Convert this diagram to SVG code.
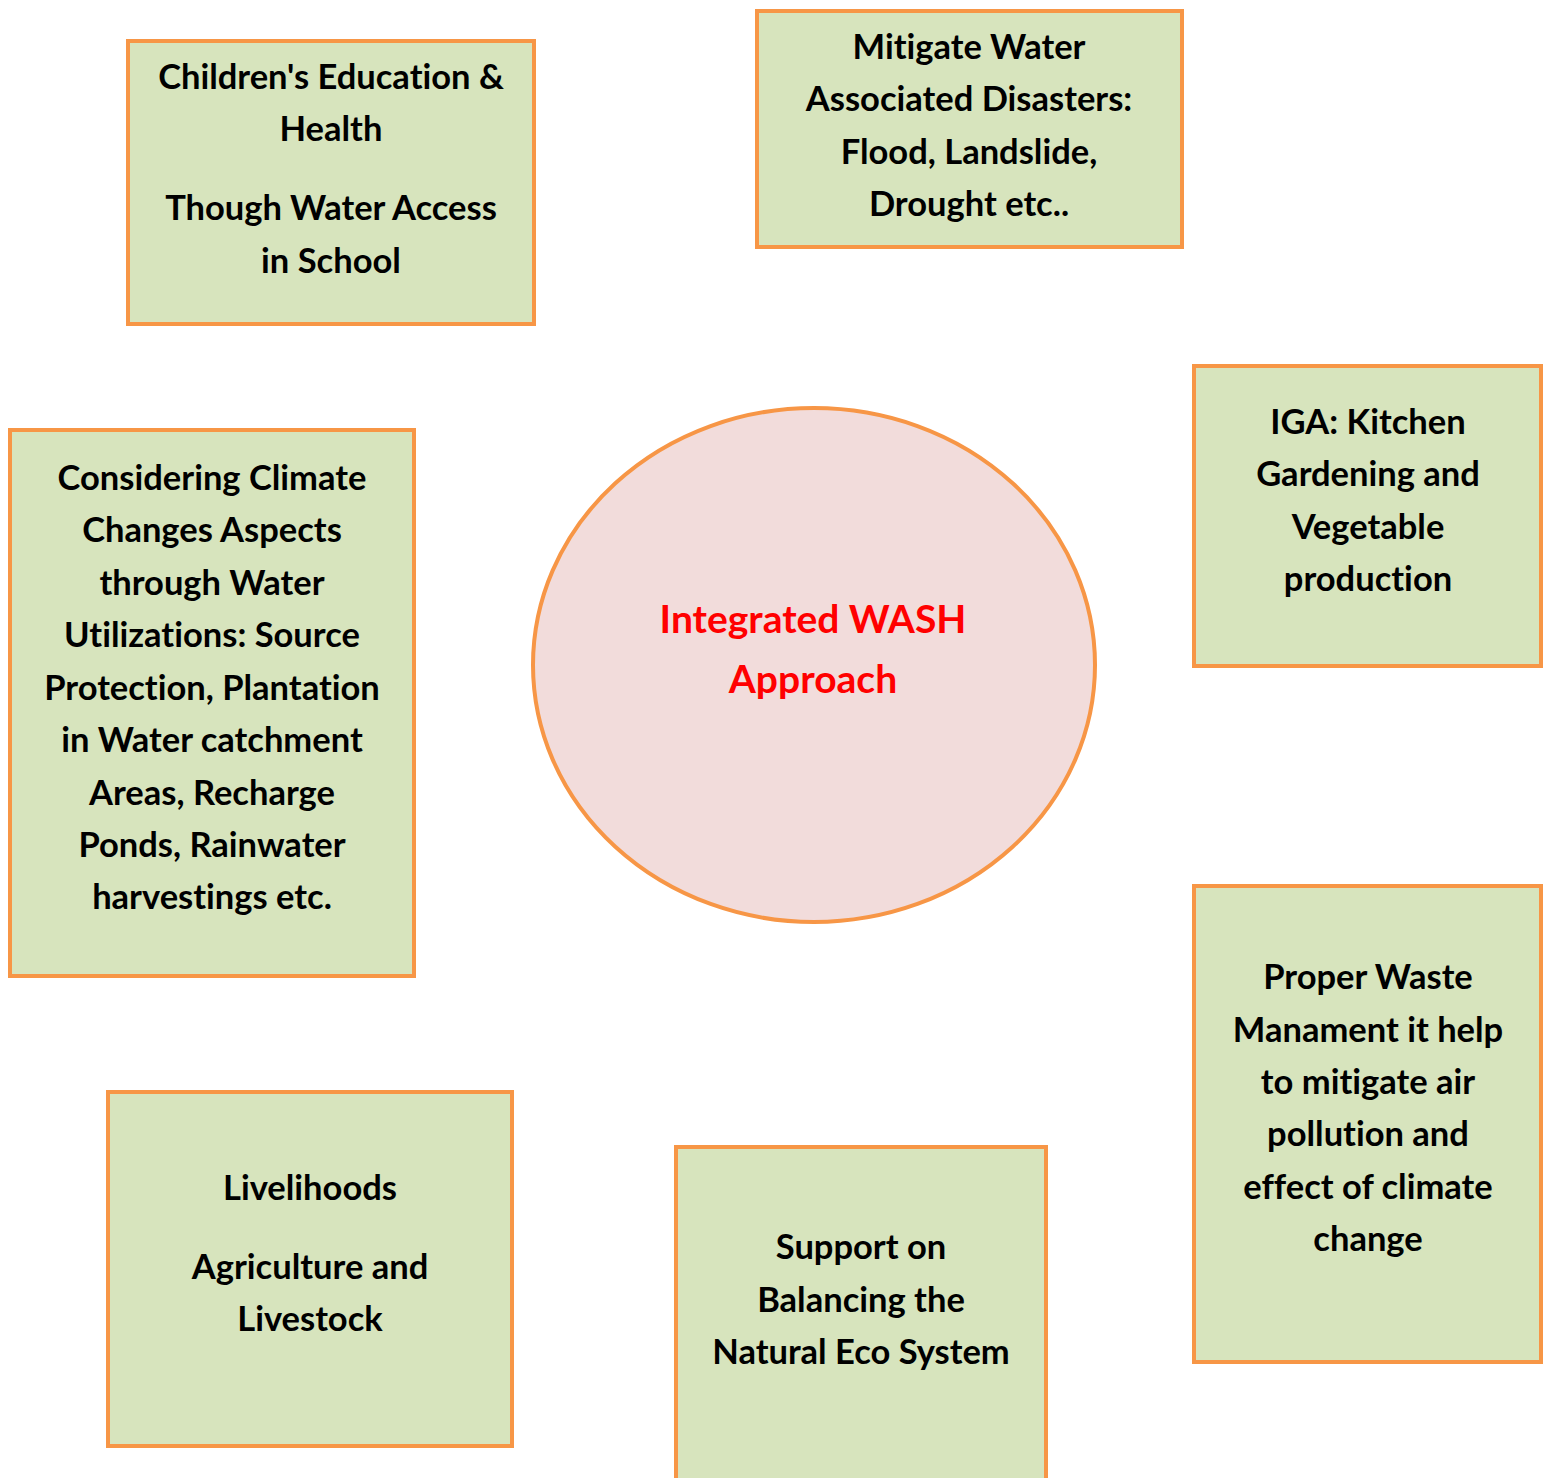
<svg xmlns="http://www.w3.org/2000/svg" width="1543" height="1478" viewBox="0 0 1543 1478">
  <style>
    .box { fill: #D7E4BD; stroke: #F79646; stroke-width: 4; }
    .hub { fill: #F2DCDB; stroke: #F79646; stroke-width: 4; }
    .lbl { font-family: Lato, "Open Sans", sans-serif; font-weight: 700; font-size: 34.5px; fill: #000; text-anchor: middle; font-variant-ligatures: none; }
    .hubtxt { font-family: Lato, "Open Sans", sans-serif; font-weight: 700; font-size: 39px; fill: #FF0000; text-anchor: middle; font-variant-ligatures: none; }
  </style>
  <rect width="1543" height="1478" fill="#FFFFFF"/>

  <g id="connectors"></g>

  <g id="hub">
    <ellipse class="hub" cx="814" cy="665" rx="281" ry="257"/>
    <text class="hubtxt" x="813" y="633">Integrated WASH</text>
    <text class="hubtxt" x="813" y="693">Approach</text>
  </g>

  <g id="education">
    <rect class="box" x="128" y="41" width="406" height="283"/>
    <text class="lbl" x="331" y="89">Children's Education &amp;</text>
    <text class="lbl" x="331" y="141">Health</text>
    <text class="lbl" x="331" y="220">Though Water Access</text>
    <text class="lbl" x="331" y="273">in School</text>
  </g>

  <g id="disasters">
    <rect class="box" x="757" y="11" width="425" height="236"/>
    <text class="lbl" x="969" y="59">Mitigate Water</text>
    <text class="lbl" x="969" y="111">Associated Disasters:</text>
    <text class="lbl" x="969" y="164">Flood, Landslide,</text>
    <text class="lbl" x="969" y="216">Drought etc..</text>
  </g>

  <g id="iga">
    <rect class="box" x="1194" y="366" width="347" height="300"/>
    <text class="lbl" x="1368" y="434">IGA: Kitchen</text>
    <text class="lbl" x="1368" y="486">Gardening and</text>
    <text class="lbl" x="1368" y="539">Vegetable</text>
    <text class="lbl" x="1368" y="591">production</text>
  </g>

  <g id="climate">
    <rect class="box" x="10" y="430" width="404" height="546"/>
    <text class="lbl" x="212" y="490">Considering Climate</text>
    <text class="lbl" x="212" y="542">Changes Aspects</text>
    <text class="lbl" x="212" y="595">through Water</text>
    <text class="lbl" x="212" y="647">Utilizations: Source</text>
    <text class="lbl" x="212" y="700">Protection, Plantation</text>
    <text class="lbl" x="212" y="752">in Water catchment</text>
    <text class="lbl" x="212" y="805">Areas, Recharge</text>
    <text class="lbl" x="212" y="857">Ponds, Rainwater</text>
    <text class="lbl" x="212" y="909">harvestings etc.</text>
  </g>

  <g id="waste">
    <rect class="box" x="1194" y="886" width="347" height="476"/>
    <text class="lbl" x="1368" y="989">Proper Waste</text>
    <text class="lbl" x="1368" y="1042">Manament it help</text>
    <text class="lbl" x="1368" y="1094">to mitigate air</text>
    <text class="lbl" x="1368" y="1146">pollution and</text>
    <text class="lbl" x="1368" y="1199">effect of climate</text>
    <text class="lbl" x="1368" y="1251">change</text>
  </g>

  <g id="livelihoods">
    <rect class="box" x="108" y="1092" width="404" height="354"/>
    <text class="lbl" x="310" y="1200">Livelihoods</text>
    <text class="lbl" x="310" y="1279">Agriculture and</text>
    <text class="lbl" x="310" y="1331">Livestock</text>
  </g>

  <g id="ecosystem">
    <rect class="box" x="676" y="1147" width="370" height="345"/>
    <text class="lbl" x="861" y="1259">Support on</text>
    <text class="lbl" x="861" y="1312">Balancing the</text>
    <text class="lbl" x="861" y="1364">Natural Eco System</text>
  </g>
</svg>
